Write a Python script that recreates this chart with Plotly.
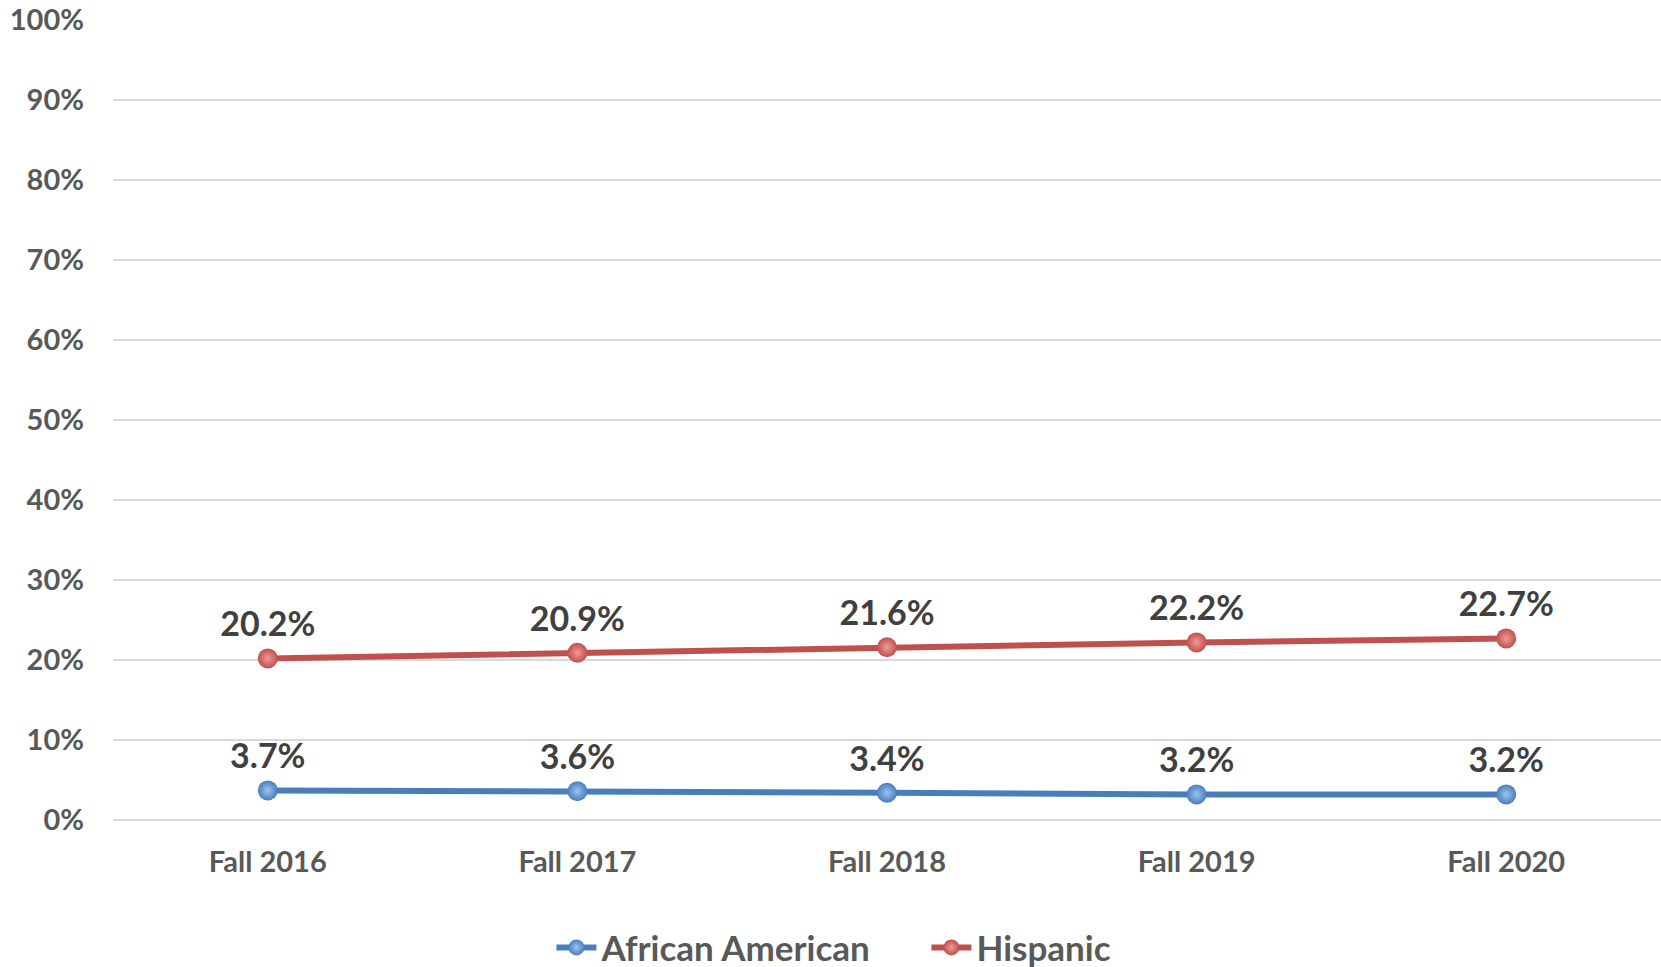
import plotly.graph_objects as go

categories = ["Fall 2016", "Fall 2017", "Fall 2018", "Fall 2019", "Fall 2020"]
african_american = [3.7, 3.6, 3.4, 3.2, 3.2]
hispanic = [20.2, 20.9, 21.6, 22.2, 22.7]
y_ticks = [0, 10, 20, 30, 40, 50, 60, 70, 80, 90, 100]
y_tick_labels = [f"{v}%" for v in y_ticks]

FONT = "Lato"
BLUE = "#4A7EBB"
RED = "#C0504D"

fig = go.Figure()

def add_series(name, values, color, hi):
    fig.add_trace(go.Scatter(
        x=categories, y=values, name=name,
        mode="lines+markers+text",
        line=dict(color=color, width=6),
        marker=dict(size=20, color=color,
                    gradient=dict(type="radial", color=hi),
                    line=dict(width=0)),
        text=[f"{v:.1f}%" for v in values],
        textposition="top center",
        textfont=dict(family=FONT, size=34, color="#404040", weight="bold"),
        cliponaxis=False,
    ))

add_series("African American", african_american, BLUE, "#9CC3F0")
add_series("Hispanic", hispanic, RED, "#F09A98")

fig.update_layout(
    width=1661, height=967,
    margin=dict(l=113, r=0, t=20, b=147),
    paper_bgcolor="white", plot_bgcolor="white",
    font=dict(family=FONT, color="#595959"),
    showlegend=True,
    legend=dict(orientation="h", xref="container", yref="container",
                x=0.332, xanchor="left", y=0.02, yanchor="middle",
                font=dict(family=FONT, size=35, color="#595959", weight="bold"),
                itemwidth=40, entrywidth=320, tracegroupgap=0),
)
fig.update_xaxes(
    type="category", range=[-0.5, 4.5], showgrid=False, showline=False, zeroline=False,
    ticks="", tickfont=dict(family=FONT, size=29, color="#595959", weight="bold"),
    ticklabelstandoff=22,
)
fig.update_yaxes(
    range=[0, 100], tickvals=y_ticks, ticktext=y_tick_labels,
    showgrid=True, gridcolor="#D9D9D9", gridwidth=2,
    zeroline=True, zerolinecolor="#D9D9D9", zerolinewidth=2,
    showline=False, ticks="",
    tickfont=dict(family=FONT, size=29, color="#595959", weight="bold"),
    ticklabelstandoff=28,
)

fig.write_html("out.html")
